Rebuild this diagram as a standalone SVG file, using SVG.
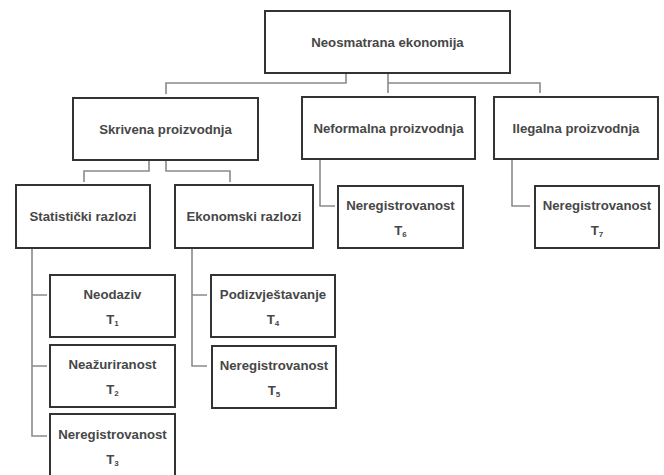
<svg xmlns="http://www.w3.org/2000/svg" width="664" height="475" viewBox="0 0 664 475">
<style>
.box{fill:#fff;stroke:#333;stroke-width:2}
.c{fill:none;stroke:#8a8a8a;stroke-width:1.6}
text{font-family:"Liberation Sans",Arial,sans-serif;font-weight:bold;font-size:13.2px;fill:#474747;text-anchor:middle}
.sub{font-size:8px}
</style>
<rect width="664" height="475" fill="#fff"/>
<g id="connectors">
<path class="c" d="M346,73 V83 H166 V94"/>
<path class="c" d="M388,73 V93 M388,83 H540 V93"/>
<path class="c" d="M149,160 V171 H84 V182 M166,160 V171 H230 V182"/>
<path class="c" d="M32,248 V436 H47 M32,295 H47 M32,366 H47"/>
<path class="c" d="M192,248 V366 H207 M192,295 H207"/>
<path class="c" d="M320,159 V206 H335"/>
<path class="c" d="M512,159 V206 H530"/>
</g>
<g id="n-neosmatrana"><rect class="box" x="265" y="11" width="245" height="62"/><text x="387.5" y="47">Neosmatrana ekonomija</text></g>
<g id="n-skrivena"><rect class="box" x="73" y="98" width="185" height="62"/><text x="165.5" y="134">Skrivena proizvodnja</text></g>
<g id="n-neformalna"><rect class="box" x="302" y="97" width="173" height="62"/><text x="388.5" y="133">Neformalna proizvodnja</text></g>
<g id="n-ilegalna"><rect class="box" x="494" y="97" width="164" height="62"/><text x="576" y="133">Ilegalna proizvodnja</text></g>
<g id="n-statisticki"><rect class="box" x="16" y="185" width="134" height="63"/><text x="83" y="221">Statistički razlozi</text></g>
<g id="n-ekonomski"><rect class="box" x="175" y="185" width="138" height="63"/><text x="244" y="221">Ekonomski razlozi</text></g>
<g id="n-neodaziv"><rect class="box" x="50" y="275" width="125" height="62"/><text x="112.5" y="299">Neodaziv</text><text x="112.5" y="324">T<tspan class="sub" dy="2">1</tspan></text></g>
<g id="n-neazuriranost"><rect class="box" x="50" y="345" width="125" height="62"/><text x="112.5" y="369">Neažuriranost</text><text x="112.5" y="394">T<tspan class="sub" dy="2">2</tspan></text></g>
<g id="n-neregistrovanost3"><rect class="box" x="50" y="414" width="125" height="70"/><text x="112.5" y="439">Neregistrovanost</text><text x="112.5" y="464">T<tspan class="sub" dy="2">3</tspan></text></g>
<g id="n-podizvjestavanje"><rect class="box" x="211" y="275" width="124" height="62"/><text x="273" y="299">Podizvještavanje</text><text x="273" y="324">T<tspan class="sub" dy="2">4</tspan></text></g>
<g id="n-neregistrovanost5"><rect class="box" x="212" y="346" width="124" height="62"/><text x="274" y="370">Neregistrovanost</text><text x="274" y="395">T<tspan class="sub" dy="2">5</tspan></text></g>
<g id="n-neregistrovanost6"><rect class="box" x="338" y="186" width="125" height="62"/><text x="400.5" y="210">Neregistrovanost</text><text x="400.5" y="235">T<tspan class="sub" dy="2">6</tspan></text></g>
<g id="n-neregistrovanost7"><rect class="box" x="535" y="186" width="124" height="62"/><text x="597" y="210">Neregistrovanost</text><text x="597" y="235">T<tspan class="sub" dy="2">7</tspan></text></g>
</svg>
